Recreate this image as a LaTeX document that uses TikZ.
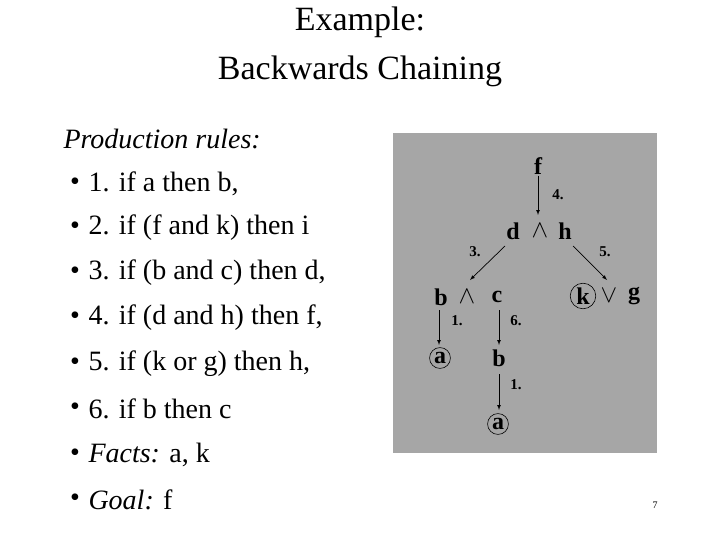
\documentclass[tikz,border=0pt]{standalone}
\usepackage{fontspec}
\setmainfont{Liberation Serif}
\begin{document}
\begin{tikzpicture}[x=1pt,y=-1pt,
  title/.style={font=\fontsize{34}{36}\selectfont},
  item/.style={anchor=west,font=\fontsize{28}{30}\selectfont},
  bul/.style={font=\fontsize{28}{30}\selectfont},
  tn/.style={font=\fontsize{24}{26}\selectfont\bfseries,inner sep=1pt},
  cn/.style={tn,draw,circle,inner sep=1.5pt,line width=0.6pt},
  lb/.style={font=\fontsize{15}{16}\selectfont\bfseries,inner sep=0pt},
  ar/.style={-latex,line width=0.7pt}]
\useasboundingbox (0,0) rectangle (720,540);
\fill[white] (0,0) rectangle (720,540);
\node[title] (t1) at (360,22) {Example:};
\node[title] (t2) at (360,71) {Backwards Chaining};
\node[item] (p0) at (60,139) {\itshape Production rules:};
\foreach \y/\t [count=\i] in {184/{1. if a then b,},228/{2. if (f and k) then i},273/{3. if (b and c) then d,},318/{4. if (d and h) then f,},364/{5. if (k or g) then h,},409/{6. if b then c}}{
  \node[bul] (b\i) at (75,\y) {\textbullet};
  \node[item] (l\i) at (85,\y) {\t};
}
\node[bul] (b7) at (75,455) {\textbullet};
\node[item] (l7) at (85,455) {\textit{Facts:} a, k};
\node[bul] (b8) at (75,500) {\textbullet};
\node[item] (l8) at (85,500) {\textit{Goal:} f};
\node[font=\fontsize{10}{11}\selectfont] (pg) at (655,505) {7};
\fill[gray!70] (393,133) rectangle (657,453);
\node[tn] (f) at (538,166) {f};
\node[tn] (d) at (513,231) {d};
\node[tn] (and1) at (540,231) {$\wedge$};
\node[tn] (h) at (565,231) {h};
\node[tn] (b) at (441,297) {b};
\node[tn] (and2) at (467,297) {$\wedge$};
\node[tn] (c) at (497,297) {c};
\node[cn] (k) at (583,296) {k};
\node[tn] (or) at (609,296) {$\vee$};
\node[tn] (g) at (634,296) {g};
\node[cn] (a1) at (440,358) {a};
\node[tn] (b2) at (499,358) {b};
\node[cn] (a2) at (498,424) {a};
\draw[ar] (f.south) -- (538,215);
\draw[ar] (505,246) -- (470,280);
\draw[ar] (573,246) -- (607,280);
\draw[ar] (439,310) -- (439,345);
\draw[ar] (499,310) -- (499,345);
\draw[ar] (499,374) -- (499,410);
\node[lb] (l4) at (558,195) {4.};
\node[lb] (l3) at (475,252) {3.};
\node[lb] (l5) at (605,252) {5.};
\node[lb] (l1a) at (457,321) {1.};
\node[lb] (l6) at (516,321) {6.};
\node[lb] (l1b) at (516,385) {1.};
\end{tikzpicture}
\end{document}
